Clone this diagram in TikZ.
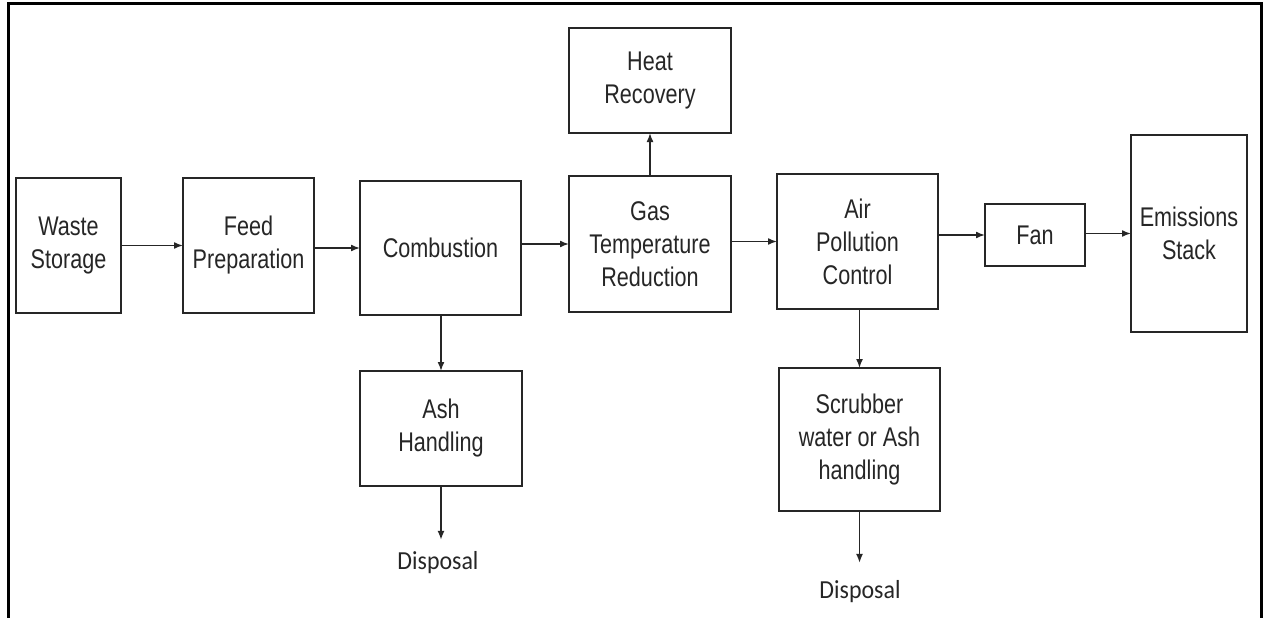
\documentclass[tikz,border=0pt]{standalone}
\usepackage{fontspec}
\setmainfont{Liberation Sans}[FakeStretch=0.8]
\newfontfamily\dispfont{Carlito}[FakeStretch=0.92]
\usetikzlibrary{arrows.meta}
\begin{document}
\begin{tikzpicture}[x=1pt,y=-1pt,
  blk/.style={draw=black!85, line width=1.8pt, inner sep=0pt, outer sep=0pt, align=center,
    text=black!85, font=\fontsize{27}{33}\selectfont},
  flow/.style={draw=black!85, line width=1.6pt, -{Latex[length=9pt,width=7pt]}},
  disp/.style={text=black!85, inner sep=0pt, font=\dispfont\fontsize{26}{30}\selectfont}]
\useasboundingbox (0,0) rectangle (1271,618);
\fill[white] (0,0) rectangle (1271,618);
% border (open at the bottom)
\draw[line width=3pt] (8,620) -- (8,4) -- (1261,4) -- (1261,620);
% boxes
\node[blk, minimum width=105pt, minimum height=135pt] (waste) at (68.5,245.5) {Waste\\Storage};
\node[blk, minimum width=131pt, minimum height=135pt] (feed) at (248.5,245.5) {Feed\\Preparation};
\node[blk, minimum width=161pt, minimum height=134pt] (comb) at (440.5,248) {Combustion};
\node[blk, minimum width=162pt, minimum height=136pt] (gas) at (650,244) {Gas\\Temperature\\Reduction};
\node[blk, minimum width=162pt, minimum height=105pt] (heat) at (650,80.5) {Heat\\Recovery};
\node[blk, minimum width=161pt, minimum height=135pt] (air) at (857.5,241.5) {Air\\Pollution\\Control};
\node[blk, minimum width=100pt, minimum height=62pt] (fan) at (1035,235) {Fan};
\node[blk, minimum width=116pt, minimum height=197pt] (stack) at (1189,233.5) {Emissions\\Stack};
\node[blk, minimum width=162pt, minimum height=115pt] (ash) at (441,428.5) {Ash\\Handling};
\node[blk, minimum width=161pt, minimum height=143pt] (scr) at (859.5,439.5) {Scrubber\\water or Ash\\handling};
\node[disp, outer sep=12pt] (d1) at (438,563) {Disposal};
\node[disp, outer sep=18pt] (d2) at (860,592) {Disposal};
% connectors
\draw[flow] (waste.east |- feed) -- (feed.west);
\draw[flow] (feed.east |- comb) -- (comb.west);
\draw[flow] (comb.east |- gas) -- (gas.west);
\draw[flow] (gas.east |- air) -- (air.west);
\draw[flow] (air.east |- fan) -- (fan.west);
\draw[flow] (fan.east |- stack) -- (stack.west);
\draw[flow] (gas.north) -- (heat.south);
\draw[flow] (comb.south -| ash.north) -- (ash.north);
\draw[flow] (ash.south) -- (ash.south |- d1.north);
\draw[flow] (air.south -| scr.north) -- (scr.north);
\draw[flow] (scr.south) -- (scr.south |- d2.north);
\end{tikzpicture}
\end{document}
